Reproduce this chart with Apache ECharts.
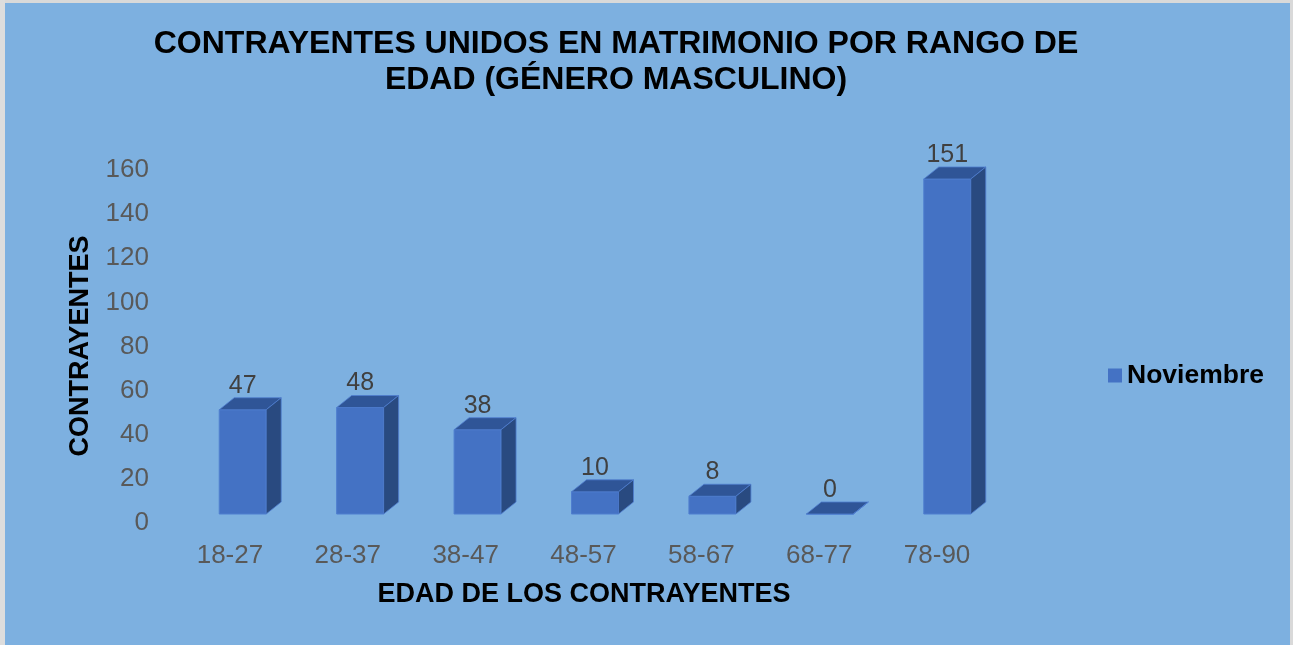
<!DOCTYPE html>
<html>
<head>
<meta charset="utf-8">
<script src="https://cdn.jsdelivr.net/npm/echarts@6/dist/echarts.min.js"></script>
<style>
  html, body { margin: 0; padding: 0; background: #ffffff; }
  #chart { width: 1297px; height: 645px; }
</style>
</head>
<body>
<div id="chart"></div>
<script>
const categories = ['18-27', '28-37', '38-47', '48-57', '58-67', '68-77', '78-90'];
const values = [47, 48, 38, 10, 8, 0, 151];
const seriesName = 'Noviembre';
const titleText = 'CONTRAYENTES UNIDOS EN MATRIMONIO POR RANGO DE\nEDAD (GÉNERO MASCULINO)';
const yAxisTitle = 'CONTRAYENTES';
const xAxisTitle = 'EDAD DE LOS CONTRAYENTES';

const FONT = '"Liberation Sans", Arial, sans-serif';
const FRONT = '#4472C4', TOP = '#2F5597', SIDE = '#294A80';
const DX = 15, DY = -12;

function renderBar(params, api) {
  const i = api.value(0);
  const v = api.value(1);
  const base = api.coord([i, 0]);
  const top = api.coord([i, v]);
  const bw = api.size([1, 0])[0] * 0.4;
  const x0 = base[0] - bw / 2, x1 = base[0] + bw / 2;
  const yb = base[1], yt = top[1];
  return {
    type: 'group',
    children: [
      { type: 'rect', shape: { x: x0, y: yt, width: bw, height: yb - yt },
        style: { fill: FRONT, stroke: '#4F7ECF', lineWidth: 1 } },
      { type: 'polygon', shape: { points: [[x0, yt], [x1, yt], [x1 + DX, yt + DY], [x0 + DX, yt + DY]] },
        style: { fill: TOP, stroke: '#4F7ECF', lineWidth: 0.8 } },
      { type: 'polygon', shape: { points: [[x1, yt], [x1 + DX, yt + DY], [x1 + DX, yb + DY], [x1, yb]] },
        style: { fill: SIDE, stroke: '#4F7ECF', lineWidth: 0.8 } },
      { type: 'text', x: base[0], y: yt + DY - 12,
        style: { text: String(v), fill: '#404040', font: '25px ' + FONT, align: 'center', verticalAlign: 'middle' } }
    ]
  };
}

const chart = echarts.init(document.getElementById('chart'), null, { renderer: 'canvas' });
chart.setOption({
  backgroundColor: '#7DB0E0',
  animation: false,
  title: {
    text: titleText,
    left: 611, top: 21, textAlign: 'center',
    textStyle: { fontFamily: FONT, fontWeight: 'bold', fontSize: 32, lineHeight: 36, color: '#000' }
  },
  legend: {
    data: [{ name: seriesName, itemStyle: { color: FRONT } }],
    left: 1103, top: 357, icon: 'rect', itemWidth: 14, itemHeight: 14, itemGap: 5,
    textStyle: { fontFamily: FONT, fontWeight: 'bold', fontSize: 26.5, color: '#000' }
  },
  grid: [
    { left: 184, right: 291, top: 159, bottom: 131 },
    { left: 171, right: 301, top: 170, bottom: 122 }
  ],
  xAxis: [
    { type: 'category', gridIndex: 0, data: categories, show: false },
    { type: 'category', gridIndex: 1, data: categories,
      axisLine: { show: false }, axisTick: { show: false },
      axisLabel: { margin: 20, color: '#595959', fontFamily: FONT, fontSize: 26 } }
  ],
  yAxis: [
    { type: 'value', gridIndex: 0, min: 0, max: 160, interval: 20, show: false },
    { type: 'value', gridIndex: 1, min: 0, max: 160, interval: 20,
      axisLine: { show: false }, axisTick: { show: false }, splitLine: { show: false },
      axisLabel: { margin: 22, color: '#595959', fontFamily: FONT, fontSize: 26 } }
  ],
  graphic: [
    { type: 'rect', shape: { x: 0, y: 0, width: 1297, height: 3 }, style: { fill: '#D9D9D9' }, silent: true },
    { type: 'rect', shape: { x: 0, y: 0, width: 5, height: 645 }, style: { fill: '#DDDDDD' }, silent: true },
    { type: 'rect', shape: { x: 1290, y: 0, width: 3, height: 645 }, style: { fill: '#D9D9D9' }, silent: true },
    { type: 'rect', shape: { x: 1293, y: 0, width: 4, height: 645 }, style: { fill: '#FFFFFF' }, silent: true },
    { type: 'text', x: 81, y: 346, rotation: Math.PI / 2,
      style: { text: yAxisTitle, font: 'bold 27px ' + FONT, fill: '#000', align: 'center', verticalAlign: 'middle' } },
    { type: 'text', x: 584, y: 595,
      style: { text: xAxisTitle, font: 'bold 27px ' + FONT, fill: '#000', align: 'center', verticalAlign: 'middle' } }
  ],
  series: [{
    name: seriesName,
    type: 'custom',
    xAxisIndex: 0, yAxisIndex: 0,
    itemStyle: { color: FRONT },
    renderItem: renderBar,
    data: values.map((v, i) => [i, v])
  }]
});
</script>
</body>
</html>
